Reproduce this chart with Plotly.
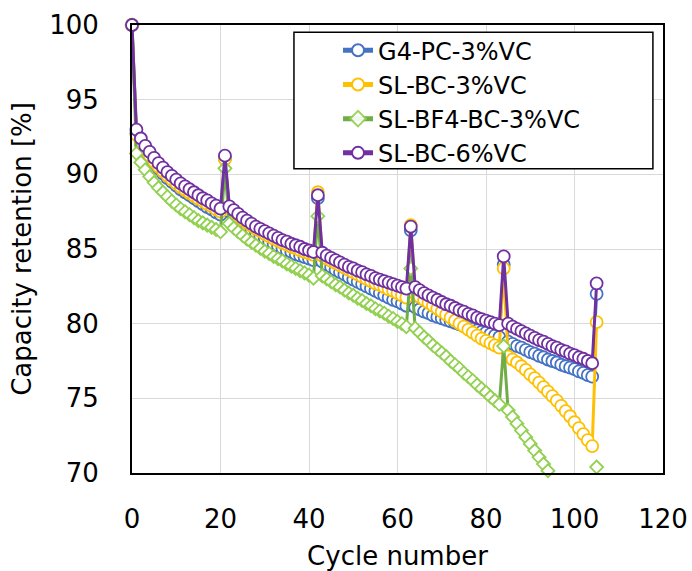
import plotly.graph_objects as go

cycles = list(range(0, 106))

g4_pc_3vc = [
    100.0,
    92.75, 92.1, 91.6, 91.15, 90.75, 90.4, 90.05, 89.75, 89.5, 89.25,
    89.0, 88.8, 88.6, 88.4, 88.2, 88.0, 87.8, 87.65, 87.45, 87.3,
    91.1,
    87.5, 87.2, 86.95, 86.7, 86.45, 86.25, 86.05, 85.85, 85.7, 85.5,
    85.35, 85.2, 85.05, 84.9, 84.8, 84.65, 84.55, 84.45, 84.35, 84.25,
    88.4,
    84.15, 83.95, 83.8, 83.6, 83.45, 83.3, 83.1, 82.95, 82.8, 82.65,
    82.5, 82.35, 82.2, 82.05, 81.9, 81.75, 81.6, 81.5, 81.35, 81.2,
    86.25,
    81.1, 80.95, 80.8, 80.7, 80.55, 80.45, 80.35, 80.25, 80.15, 80.05,
    79.95, 79.85, 79.75, 79.65, 79.55, 79.45, 79.4, 79.3, 79.2, 79.1,
    83.95,
    78.8, 78.65, 78.5, 78.4, 78.25, 78.1, 78.0, 77.85, 77.75, 77.6,
    77.5, 77.4, 77.25, 77.15, 77.05, 76.95, 76.8, 76.7, 76.55, 76.45,
    82.0,
]

sl_bc_3vc = [
    100.0,
    92.65, 92.1, 91.65, 91.25, 90.85, 90.5, 90.2, 89.9, 89.65, 89.4,
    89.15, 88.95, 88.75, 88.55, 88.35, 88.2, 88.0, 87.85, 87.65, 87.5,
    91.0,
    87.7, 87.45, 87.2, 86.95, 86.75, 86.55, 86.35, 86.2, 86.0, 85.85,
    85.7, 85.55, 85.4, 85.3, 85.15, 85.05, 84.9, 84.8, 84.7, 84.6,
    88.8,
    84.55, 84.35, 84.2, 84.05, 83.9, 83.75, 83.6, 83.45, 83.3, 83.15,
    83.0, 82.85, 82.7, 82.6, 82.45, 82.3, 82.2, 82.05, 81.9, 81.75,
    86.6,
    82.0, 81.8, 81.6, 81.4, 81.2, 81.0, 80.8, 80.6, 80.4, 80.2,
    80.0, 79.8, 79.6, 79.4, 79.2, 79.0, 78.85, 78.7, 78.55, 78.4,
    83.7,
    77.8, 77.6, 77.4, 77.15, 76.9, 76.6, 76.35, 76.05, 75.75, 75.45,
    75.15, 74.85, 74.5, 74.15, 73.8, 73.4, 73.0, 72.6, 72.2, 71.8,
    80.1,
]

sl_bf4_bc_3vc = [
    100.0,
    91.4, 90.8, 90.3, 89.85, 89.45, 89.1, 88.8, 88.5, 88.2, 87.95,
    87.7, 87.5, 87.3, 87.1, 86.9, 86.75, 86.6, 86.45, 86.3, 86.15,
    90.4,
    86.7, 86.4, 86.15, 85.9, 85.65, 85.45, 85.25, 85.05, 84.85, 84.7,
    84.5, 84.35, 84.2, 84.0, 83.85, 83.7, 83.55, 83.4, 83.25, 83.05,
    87.2,
    83.2, 83.0, 82.8, 82.6, 82.45, 82.25, 82.05, 81.9, 81.7, 81.55,
    81.35, 81.2, 81.0, 80.85, 80.7, 80.5, 80.35, 80.15, 80.0, 79.8,
    83.7,
    79.7, 79.4, 79.1, 78.85, 78.55, 78.3, 78.05, 77.8, 77.5, 77.25,
    77.0, 76.7, 76.45, 76.2, 75.9, 75.65, 75.4, 75.1, 74.85, 74.6,
    78.5,
    74.2, 73.75, 73.3, 72.85, 72.4, 71.95, 71.5, 71.05, 70.6, 70.15,
    69.7, 69.25, 68.8, 68.35, 67.9, 67.45, 67.0, 66.55, 66.1, 65.65,
    70.4,
]

sl_bc_6vc = [
    100.0,
    93.0, 92.4, 91.9, 91.5, 91.1, 90.75, 90.45, 90.15, 89.9, 89.65,
    89.4, 89.2, 89.0, 88.8, 88.6, 88.4, 88.25, 88.05, 87.9, 87.7,
    91.25,
    87.85, 87.6, 87.35, 87.1, 86.9, 86.7, 86.5, 86.35, 86.2, 86.05,
    85.9, 85.75, 85.6, 85.5, 85.35, 85.25, 85.15, 85.0, 84.9, 84.8,
    88.6,
    84.75, 84.55, 84.4, 84.25, 84.1, 83.95, 83.8, 83.7, 83.55, 83.45,
    83.3, 83.2, 83.05, 82.95, 82.85, 82.75, 82.65, 82.55, 82.45, 82.35,
    86.5,
    82.45, 82.25, 82.05, 81.9, 81.75, 81.6, 81.45, 81.3, 81.2, 81.05,
    80.9, 80.8, 80.65, 80.55, 80.4, 80.3, 80.2, 80.1, 80.0, 79.9,
    84.5,
    80.0, 79.8, 79.65, 79.5, 79.35, 79.2, 79.05, 78.9, 78.8, 78.65,
    78.5, 78.4, 78.25, 78.15, 78.0, 77.9, 77.75, 77.65, 77.5, 77.35,
    82.7,
]

series_names = ["G4-PC-3%VC", "SL-BC-3%VC", "SL-BF4-BC-3%VC", "SL-BC-6%VC"]

Y_MIN, Y_MAX = 70, 100
X_MIN, X_MAX = 0, 120

FONT = "DejaVu Sans"

fig = go.Figure()

styles = [
    dict(line="#4472C4", mline="#4472C4", symbol="circle", size=12),
    dict(line="#FFC000", mline="#FFC000", symbol="circle", size=12),
    dict(line="#70AD47", mline="#92D050", symbol="diamond", size=10),
    dict(line="#7030A0", mline="#7030A0", symbol="circle", size=12),
]

for name, vals, st in zip(series_names, [g4_pc_3vc, sl_bc_3vc, sl_bf4_bc_3vc, sl_bc_6vc], styles):
    op = [1 if v >= Y_MIN else 0 for v in vals]
    fig.add_trace(go.Scatter(
        x=cycles, y=vals, name=name, mode="lines+markers",
        line=dict(color=st["line"], width=3),
        marker=dict(symbol=st["symbol"], size=st["size"], color="white",
                    opacity=op,
                    line=dict(color=st["mline"], width=1.8)),
        cliponaxis=False,
    ))

# legend frame
fig.add_shape(type="rect", xref="paper", yref="paper",
              x0=0.305, x1=0.981, y0=0.679, y1=0.984,
              line=dict(color="black", width=1.5), fillcolor="white", layer="above")

fig.update_layout(
    width=692, height=571,
    margin=dict(l=132, r=29, t=25, b=98, autoexpand=False),
    paper_bgcolor="white", plot_bgcolor="white",
    font=dict(family=FONT, size=26, color="black"),
    showlegend=True,
    legend=dict(x=0.388, y=0.993, xanchor="left", yanchor="top",
                bgcolor="rgba(0,0,0,0)", borderwidth=0,
                font=dict(family=FONT, size=24, color="black"),
                itemsizing="constant", tracegroupgap=0),
    xaxis=dict(range=[X_MIN, X_MAX], dtick=20, tick0=0,
               showgrid=True, gridcolor="#D9D9D9", gridwidth=1,
               showline=True, linecolor="black", linewidth=2, mirror=True,
               ticks="", ticklabelstandoff=22, zeroline=False,
               title=dict(text="Cycle number", standoff=14, font=dict(size=26)),
               automargin=False),
    yaxis=dict(range=[Y_MIN, Y_MAX], dtick=5, tick0=70,
               showgrid=True, gridcolor="#D9D9D9", gridwidth=1,
               showline=True, linecolor="black", linewidth=2, mirror=True,
               ticks="", ticklabelstandoff=26, zeroline=False,
               title=dict(text="Capacity retention [%]", standoff=10, font=dict(size=26)),
               automargin=False),
)

fig.write_html("out.html")
